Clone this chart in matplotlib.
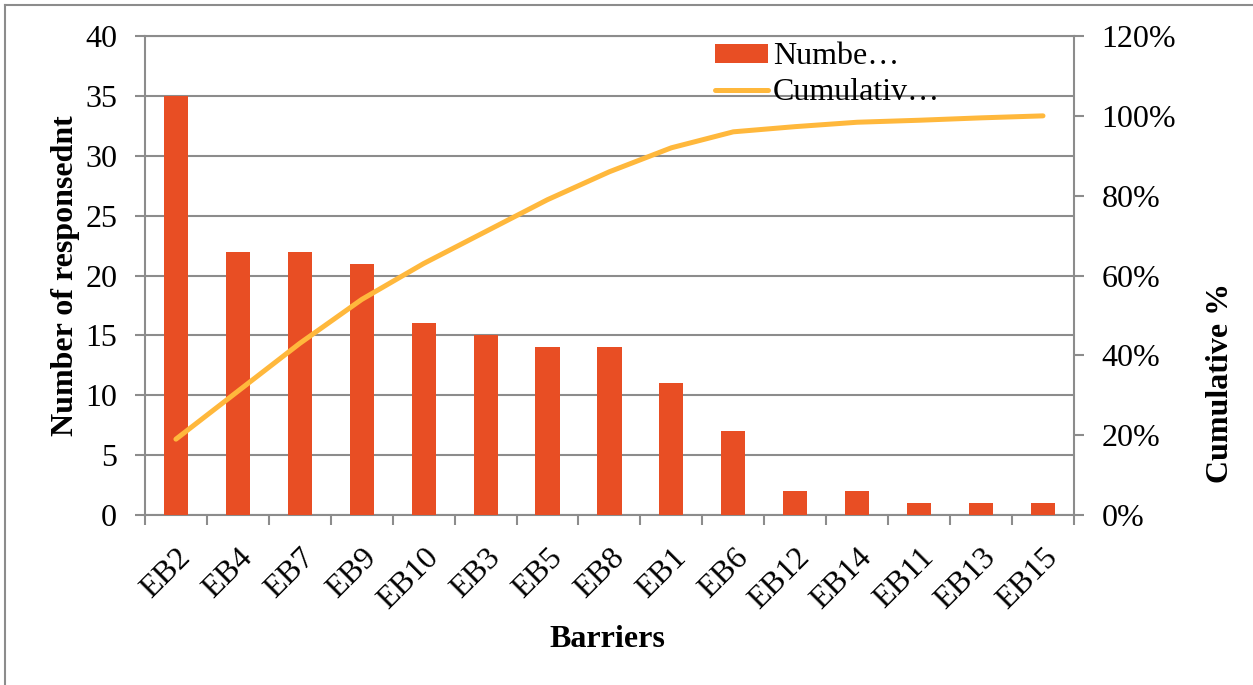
import matplotlib
matplotlib.use("Agg")
import matplotlib.pyplot as plt
from matplotlib.lines import Line2D
from matplotlib.patches import Patch
from matplotlib.ticker import FuncFormatter, MultipleLocator

plt.rcParams["font.family"] = ["Liberation Serif", "DejaVu Serif"]

barriers = ["EB2", "EB4", "EB7", "EB9", "EB10", "EB3", "EB5", "EB8",
            "EB1", "EB6", "EB12", "EB14", "EB11", "EB13", "EB15"]
respondents = [35, 22, 22, 21, 16, 15, 14, 14, 11, 7, 2, 2, 1, 1, 1]
cumulative_pct = [19, 31, 43, 54, 63, 71, 79, 86, 92, 96, 97.3, 98.4, 98.9, 99.5, 100]

BAR_COLOR = "#E84E24"
LINE_COLOR = "#FFB83C"
GRID = "#8C8C8C"
FS = 23

fig = plt.figure(figsize=(12.53, 6.85), dpi=100)
ax = fig.add_axes([0.1157, 0.2482, 0.7414, 0.6992])
x = list(range(len(barriers)))

ax.bar(x, respondents, width=0.39, color=BAR_COLOR, zorder=3)
ax.set_xlim(-0.5, len(barriers) - 0.5)
ax.set_ylim(0, 40)
ax.yaxis.set_major_locator(MultipleLocator(5))
ax.grid(axis="y", color=GRID, linewidth=1.5, zorder=0)
ax.set_axisbelow(True)

ax.set_xticks(x)
ax.set_xticklabels(barriers, rotation=45, ha="right", va="top",
                   rotation_mode="anchor", fontsize=FS)
ax.set_xticks([i - 0.5 for i in range(len(barriers) + 1)], minor=True)
ax.tick_params(axis="x", which="major", length=0, pad=20)
ax.tick_params(axis="x", which="minor", length=7, width=1.5, color=GRID)
ax.tick_params(axis="y", length=7, width=1.5, color=GRID, labelsize=FS, pad=13)
for side in ["left", "bottom", "top"]:
    ax.spines[side].set_color(GRID)
    ax.spines[side].set_linewidth(1.5)
ax.spines["right"].set_visible(False)

ax.set_xlabel("Barriers", fontsize=FS, fontweight="bold")
ax.set_ylabel("Number of responsednt", fontsize=FS, fontweight="bold")
ax.xaxis.set_label_coords(0.498, -0.229)
ax.yaxis.set_label_coords(-0.0698, 0.5)

ax2 = ax.twinx()
ax2.plot(x, cumulative_pct, color=LINE_COLOR, linewidth=3.6,
         solid_capstyle="round", zorder=4)
ax2.set_ylim(0, 120)
ax2.yaxis.set_major_locator(MultipleLocator(20))
ax2.yaxis.set_major_formatter(FuncFormatter(lambda v, p: f"{v:.0f}%"))
ax2.tick_params(axis="y", length=7, width=1.5, color=GRID, labelsize=FS, pad=13)
for side in ["left", "bottom", "top"]:
    ax2.spines[side].set_visible(False)
ax2.spines["right"].set_color(GRID)
ax2.spines["right"].set_linewidth(1.5)
ax2.set_ylabel("Cumulative %", fontsize=FS, fontweight="bold")
ax2.yaxis.set_label_coords(1.142, 0.276)

handles = [Patch(facecolor=BAR_COLOR, edgecolor="none"),
           Line2D([0], [0], color=LINE_COLOR, linewidth=3.6, solid_capstyle="round")]
fig.legend(handles, ["Numbe…", "Cumulativ…"], loc="upper left",
           bbox_to_anchor=(0.5555, 0.966), frameon=False, fontsize=FS,
           handlelength=1.65, handleheight=0.55, handletextpad=0.15,
           labelspacing=0.22, borderpad=0.1)

# outer frame of the original figure (only left and top edges visible)
fig.add_artist(Line2D([5 / 1253, 5 / 1253], [0, 1 - 5 / 685], color=GRID, linewidth=1.5))
fig.add_artist(Line2D([5 / 1253, 1], [1 - 5 / 685, 1 - 5 / 685], color=GRID, linewidth=1.5))

fig.savefig("out.png", dpi=100)
